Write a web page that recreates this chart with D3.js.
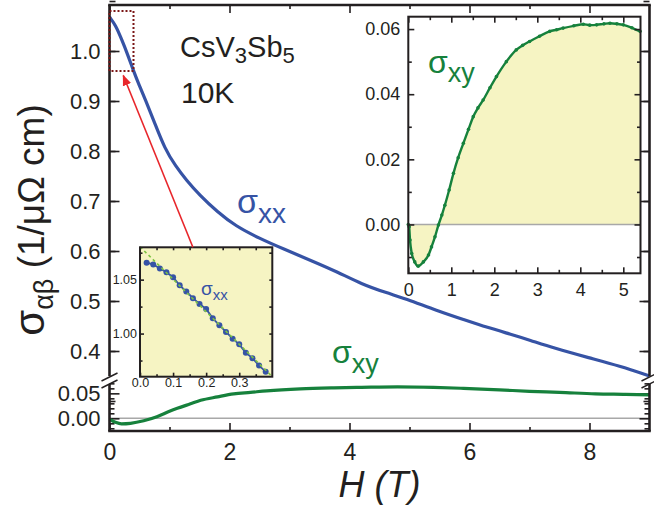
<!DOCTYPE html>
<html><head><meta charset="utf-8">
<script src="https://cdn.jsdelivr.net/npm/d3@7"></script>
<style>
body{margin:0;background:#fff}
svg{display:block}
text{font-family:"Liberation Sans",Arial,Helvetica,sans-serif;fill:#231f20}
</style>
</head><body><svg id="c" width="654" height="506"></svg>
<script>
// ---------- data ----------
const fieldXX = [0, 0.1, 0.2, 0.3, 0.4, 0.5, 0.6, 0.75, 0.92, 1.1, 1.28, 1.5, 1.8, 2.1, 2.5, 2.9, 3.4, 3.8, 4.2, 4.6, 5.0, 5.5, 5.9, 6.3, 6.7, 7.0, 7.4, 8.0, 8.5, 9.0];
const sigmaXX = [1.068, 1.052, 1.024, 0.994, 0.960, 0.930, 0.902, 0.857, 0.805, 0.770, 0.742, 0.712, 0.678, 0.650, 0.625, 0.604, 0.579, 0.558, 0.534, 0.517, 0.502, 0.479, 0.463, 0.447, 0.433, 0.422, 0.406, 0.386, 0.370, 0.350];

const fieldXY = [0, 0.1, 0.2, 0.35, 0.57, 0.79, 1.0, 1.13, 1.35, 1.52, 1.8, 2.07, 2.35, 2.62, 3.18, 3.74, 4.2, 4.8, 5.4, 5.9, 6.5, 7.0, 7.5, 8.1, 8.6, 9.0];
const sigmaXY = [-0.002, -0.008, -0.011, -0.010, -0.005, 0.003, 0.014, 0.020, 0.029, 0.036, 0.043, 0.049, 0.052, 0.055, 0.059, 0.061, 0.062, 0.063, 0.062, 0.060, 0.057, 0.054, 0.052, 0.049, 0.048, 0.047];

const insetXYField = [0.00, 0.02, 0.04, 0.08, 0.15, 0.23, 0.35, 0.47, 0.54, 0.62, 0.70, 0.78, 0.85, 0.95, 1.05, 1.16, 1.28, 1.40, 1.51, 1.62, 1.74, 1.90, 2.05, 2.28, 2.51, 2.66, 2.82, 3.05, 3.29, 3.45, 3.60, 3.85, 4.07, 4.22, 4.38, 4.55, 4.69, 4.85, 5.00, 5.20, 5.39];
const insetXYValue = [0.0000, -0.0007, -0.0048, -0.0089, -0.0115, -0.0128, -0.0115, -0.0094, -0.0069, -0.0038, -0.0002, 0.0029, 0.0059, 0.0106, 0.0157, 0.0205, 0.0249, 0.0292, 0.0331, 0.0358, 0.0382, 0.0420, 0.0454, 0.0500, 0.0536, 0.0550, 0.0562, 0.0578, 0.0593, 0.0598, 0.0603, 0.0610, 0.0615, 0.0612, 0.0613, 0.0616, 0.0618, 0.0616, 0.0613, 0.0604, 0.0593];

const insetXXField = [0.02, 0.04, 0.06, 0.08, 0.10, 0.12, 0.14, 0.16, 0.18, 0.20, 0.22, 0.24, 0.26, 0.28, 0.30, 0.32, 0.34, 0.36, 0.38];
const insetXXValue = [1.0657, 1.0641, 1.0603, 1.0568, 1.0522, 1.0447, 1.0390, 1.0328, 1.0275, 1.0228, 1.0141, 1.0078, 1.0015, 0.9953, 0.9900, 0.9822, 0.9772, 0.9703, 0.9647];
const fitField = [0.0, 0.4];
const fitValue = [1.0805, 0.9600];

const mainXTicks = [0, 2, 4, 6, 8];
const mainXMinor = [1, 3, 5, 7];
const mainYUpperTicks = [0.4, 0.5, 0.6, 0.7, 0.8, 0.9, 1.0];
const mainYLowerTicks = [0.00, 0.05];
const insetXYXTicks = [0, 1, 2, 3, 4, 5];
const insetXYYTicks = [0.00, 0.02, 0.04, 0.06];
const insetXXXTicks = [0.0, 0.1, 0.2, 0.3];
const insetXXYTicks = [1.00, 1.05];

// ---------- setup ----------
const svg = d3.select("#c");
const BLUE = "#3653a5", GREEN = "#16813c", YEL = "#f6f4c3", DARK = "#231f20";

const xM = d3.scaleLinear().domain([0, 9]).range([109.5, 649.5]);
const yU = d3.scaleLinear().domain([0.348, 1.092]).range([377, 5]);
const yL = d3.scaleLinear().domain([-0.0254, 0.0707]).range([431, 383]);

function styleAxis(g, fs) {
  g.select(".domain").remove();
  g.selectAll(".tick line").attr("stroke", DARK).attr("stroke-width", 1.6);
  g.selectAll("text").attr("font-size", fs).attr("fill", DARK);
}
const range = (a, b, s) => d3.range(Math.round(a / s), Math.round(b / s) + 1).map(i => +(i * s).toFixed(4));

// main zero line
svg.append("line").attr("x1", xM(0)).attr("x2", xM(9)).attr("y1", yL(0)).attr("y2", yL(0))
  .attr("stroke", "#a8a8a8").attr("stroke-width", 1.6);

// main axes
const gm = svg.append("g");
gm.append("g").attr("transform", `translate(${xM(0)},0)`)
  .call(d3.axisLeft(yU).tickValues(mainYUpperTicks).tickSize(-10).tickPadding(9).tickFormat(d3.format(".1f")))
  .call(g => styleAxis(g, 22));
gm.append("g").attr("transform", `translate(${xM(0)},0)`)
  .call(d3.axisLeft(yU).tickValues(range(0.35, 1.05, 0.1).map(v => +(v).toFixed(2))).tickSize(-6).tickFormat(""))
  .call(g => styleAxis(g, 22));
gm.append("g").attr("transform", `translate(${xM(9)},0)`)
  .call(d3.axisRight(yU).tickValues(mainYUpperTicks).tickSize(-10).tickFormat(""))
  .call(g => styleAxis(g, 22));
gm.append("g").attr("transform", `translate(${xM(9)},0)`)
  .call(d3.axisRight(yU).tickValues(range(0.35, 1.05, 0.1)).tickSize(-6).tickFormat(""))
  .call(g => styleAxis(g, 22));
gm.append("g").attr("transform", `translate(${xM(0)},0)`)
  .call(d3.axisLeft(yL).tickValues(mainYLowerTicks).tickSize(-10).tickPadding(9).tickFormat(d3.format(".2f")))
  .call(g => styleAxis(g, 22));
const lowMinor = range(-0.02, 0.07, 0.01).filter(v => Math.abs(v) > 1e-6 && Math.abs(v - 0.05) > 1e-6);
gm.append("g").attr("transform", `translate(${xM(0)},0)`)
  .call(d3.axisLeft(yL).tickValues(lowMinor).tickSize(-5).tickFormat(""))
  .call(g => styleAxis(g, 22));
gm.append("g").attr("transform", `translate(${xM(9)},0)`)
  .call(d3.axisRight(yL).tickValues(mainYLowerTicks).tickSize(-10).tickFormat(""))
  .call(g => styleAxis(g, 22));
gm.append("g").attr("transform", `translate(${xM(9)},0)`)
  .call(d3.axisRight(yL).tickValues(lowMinor).tickSize(-5).tickFormat(""))
  .call(g => styleAxis(g, 22));
gm.append("g").attr("transform", `translate(0,431)`)
  .call(d3.axisBottom(xM).tickValues(mainXTicks).tickSize(-8).tickPadding(13).tickFormat(d3.format("d")))
  .call(g => styleAxis(g, 23));
gm.append("g").attr("transform", `translate(0,431)`)
  .call(d3.axisBottom(xM).tickValues(mainXMinor).tickSize(-4).tickFormat(""))
  .call(g => styleAxis(g, 23));
gm.append("g").attr("transform", `translate(0,5)`)
  .call(d3.axisTop(xM).tickValues(mainXTicks).tickSize(-8).tickFormat(""))
  .call(g => styleAxis(g, 23));
gm.append("g").attr("transform", `translate(0,5)`)
  .call(d3.axisTop(xM).tickValues(mainXMinor).tickSize(-4).tickFormat(""))
  .call(g => styleAxis(g, 23));

// main curves
const lineXY = d3.line().x((d, i) => xM(fieldXY[i])).y(d => yL(d)).curve(d3.curveMonotoneX);
svg.append("path").attr("d", lineXY(sigmaXY)).attr("fill", "none").attr("stroke", GREEN).attr("stroke-width", 3.2);
const lineXX = d3.line().x((d, i) => xM(fieldXX[i])).y(d => yU(d)).curve(d3.curveBasis);
svg.append("path").attr("d", lineXX(sigmaXX)).attr("fill", "none").attr("stroke", BLUE).attr("stroke-width", 3.2);

// frame
const fr = svg.append("g").attr("stroke", DARK).attr("stroke-width", 2.6).attr("fill", "none");
fr.append("line").attr("x1", xM(0) - 1.3).attr("x2", xM(9) + 1.3).attr("y1", 5).attr("y2", 5);
fr.append("line").attr("x1", xM(0) - 1.3).attr("x2", xM(9) + 1.3).attr("y1", 431).attr("y2", 431);
fr.append("line").attr("x1", xM(0)).attr("x2", xM(0)).attr("y1", 5).attr("y2", 376);
fr.append("line").attr("x1", xM(0)).attr("x2", xM(0)).attr("y1", 384).attr("y2", 431);
fr.append("line").attr("x1", xM(9)).attr("x2", xM(9)).attr("y1", 5).attr("y2", 376);
fr.append("line").attr("x1", xM(9)).attr("x2", xM(9)).attr("y1", 384).attr("y2", 431);
// break marks
const bk = svg.append("g").attr("stroke", DARK).attr("stroke-width", 1.4);
[xM(0), xM(9)].forEach(cx => {
  bk.append("line").attr("x1", cx - 8).attr("y1", 381).attr("x2", cx + 8).attr("y2", 373);
  bk.append("line").attr("x1", cx - 8).attr("y1", 388).attr("x2", cx + 8).attr("y2", 380);
});

// dotted box in main (region of inset)
svg.append("rect").attr("x", xM(0)).attr("y", yU(1.08)).attr("width", xM(0.4) - xM(0)).attr("height", yU(0.96) - yU(1.08))
  .attr("fill", "none").attr("stroke", "#7b1616").attr("stroke-width", 2).attr("stroke-dasharray", "2,2");

// ---------- inset 1 (sigma_xy) ----------
const xI = d3.scaleLinear().domain([0, 5.4]).range([408.3, 640.5]);
const yI = d3.scaleLinear().domain([-0.015, 0.0638]).range([273.3, 16.7]);
svg.append("rect").attr("x", xI(0)).attr("y", yI(0.0638)).attr("width", xI(5.4) - xI(0)).attr("height", yI(-0.015) - yI(0.0638)).attr("fill", "#fff");
const areaI = d3.area().x((d, i) => xI(insetXYField[i])).y0(yI(0)).y1(d => yI(d)).curve(d3.curveMonotoneX);
svg.append("path").attr("d", areaI(insetXYValue)).attr("fill", YEL);
svg.append("line").attr("x1", xI(0)).attr("x2", xI(5.4)).attr("y1", yI(0)).attr("y2", yI(0)).attr("stroke", "#a8a8a8").attr("stroke-width", 1.6);
const lineI = d3.line().x((d, i) => xI(insetXYField[i])).y(d => yI(d)).curve(d3.curveMonotoneX);
svg.append("path").attr("d", lineI(insetXYValue)).attr("fill", "none").attr("stroke", GREEN).attr("stroke-width", 2.4);
svg.append("g").selectAll("circle").data(insetXYValue).join("circle")
  .attr("cx", (d, i) => xI(insetXYField[i])).attr("cy", d => yI(d)).attr("r", 1.8).attr("fill", GREEN);
const gi = svg.append("g");
gi.append("g").attr("transform", `translate(${xI(0)},0)`)
  .call(d3.axisLeft(yI).tickValues(insetXYYTicks).tickSize(-6).tickPadding(8).tickFormat(d3.format(".2f")))
  .call(g => styleAxis(g, 18));
gi.append("g").attr("transform", `translate(${xI(0)},0)`)
  .call(d3.axisLeft(yI).tickValues([-0.01, 0.01, 0.03, 0.05]).tickSize(-3.5).tickFormat(""))
  .call(g => styleAxis(g, 18));
gi.append("g").attr("transform", `translate(${xI(5.4)},0)`)
  .call(d3.axisRight(yI).tickValues(insetXYYTicks).tickSize(-6).tickFormat(""))
  .call(g => styleAxis(g, 18));
gi.append("g").attr("transform", `translate(${xI(5.4)},0)`)
  .call(d3.axisRight(yI).tickValues([-0.01, 0.01, 0.03, 0.05]).tickSize(-3.5).tickFormat(""))
  .call(g => styleAxis(g, 18));
gi.append("g").attr("transform", `translate(0,${yI(-0.015)})`)
  .call(d3.axisBottom(xI).tickValues(insetXYXTicks).tickSize(-6).tickPadding(10).tickFormat(d3.format("d")))
  .call(g => styleAxis(g, 18));
gi.append("g").attr("transform", `translate(0,${yI(-0.015)})`)
  .call(d3.axisBottom(xI).tickValues([0.5, 1.5, 2.5, 3.5, 4.5]).tickSize(-3.5).tickFormat(""))
  .call(g => styleAxis(g, 18));
gi.append("g").attr("transform", `translate(0,${yI(0.0638)})`)
  .call(d3.axisTop(xI).tickValues(insetXYXTicks).tickSize(-6).tickFormat(""))
  .call(g => styleAxis(g, 18));
gi.append("g").attr("transform", `translate(0,${yI(0.0638)})`)
  .call(d3.axisTop(xI).tickValues([0.5, 1.5, 2.5, 3.5, 4.5]).tickSize(-3.5).tickFormat(""))
  .call(g => styleAxis(g, 18));
svg.append("rect").attr("x", xI(0)).attr("y", yI(0.0638)).attr("width", xI(5.4) - xI(0)).attr("height", yI(-0.015) - yI(0.0638))
  .attr("fill", "none").attr("stroke", DARK).attr("stroke-width", 2);
const tI = svg.append("text").attr("x", 428).attr("y", 73).style("fill", GREEN);
tI.append("tspan").attr("font-size", 32).text("σ").style("fill", GREEN);
tI.append("tspan").attr("font-size", 27).attr("dy", 9).text("xy").style("fill", GREEN);

// ---------- inset 2 (sigma_xx zoom) ----------
const xJ = d3.scaleLinear().domain([0, 0.4]).range([140, 272.3]);
const yJ = d3.scaleLinear().domain([0.96, 1.08]).range([376.7, 247.3]);
svg.append("rect").attr("x", xJ(0)).attr("y", yJ(1.08)).attr("width", xJ(0.4) - xJ(0)).attr("height", yJ(0.96) - yJ(1.08)).attr("fill", YEL);
const lineJ = d3.line().x((d, i) => xJ(insetXXField[i])).y(d => yJ(d));
svg.append("path").attr("d", lineJ(insetXXValue)).attr("fill", "none").attr("stroke", BLUE).attr("stroke-width", 1.8);
svg.append("g").selectAll("circle").data(insetXXValue).join("circle")
  .attr("cx", (d, i) => xJ(insetXXField[i])).attr("cy", d => yJ(d)).attr("r", 3).attr("fill", BLUE);
const fitJ = d3.line().x((d, i) => xJ(fitField[i])).y(d => yJ(d));
svg.append("path").attr("d", fitJ(fitValue)).attr("fill", "none").attr("stroke", "#7cc242").attr("stroke-width", 1.6).attr("stroke-dasharray", "3,3");
const gj = svg.append("g");
gj.append("g").attr("transform", `translate(${xJ(0)},0)`)
  .call(d3.axisLeft(yJ).tickValues(insetXXYTicks).tickSize(-4).tickPadding(3).tickFormat(d3.format(".2f")))
  .call(g => styleAxis(g, 12.5));
gj.append("g").attr("transform", `translate(${xJ(0)},0)`)
  .call(d3.axisLeft(yJ).tickValues([0.975, 1.025, 1.075]).tickSize(-2.5).tickFormat(""))
  .call(g => styleAxis(g, 12.5));
gj.append("g").attr("transform", `translate(${xJ(0.4)},0)`)
  .call(d3.axisRight(yJ).tickValues([0.975, 1.0, 1.025, 1.05, 1.075]).tickSize(-3).tickFormat(""))
  .call(g => styleAxis(g, 12.5));
gj.append("g").attr("transform", `translate(0,${yJ(0.96)})`)
  .call(d3.axisBottom(xJ).tickValues(insetXXXTicks).tickSize(-4).tickPadding(1.5).tickFormat(d3.format(".1f")))
  .call(g => styleAxis(g, 12.5));
gj.append("g").attr("transform", `translate(0,${yJ(0.96)})`)
  .call(d3.axisBottom(xJ).tickValues([0.05, 0.15, 0.25, 0.35]).tickSize(-2.5).tickFormat(""))
  .call(g => styleAxis(g, 12.5));
gj.append("g").attr("transform", `translate(0,${yJ(1.08)})`)
  .call(d3.axisTop(xJ).tickValues([0.05, 0.1, 0.15, 0.2, 0.25, 0.3, 0.35]).tickSize(-3).tickFormat(""))
  .call(g => styleAxis(g, 12.5));
svg.append("rect").attr("x", xJ(0)).attr("y", yJ(1.08)).attr("width", xJ(0.4) - xJ(0)).attr("height", yJ(0.96) - yJ(1.08))
  .attr("fill", "none").attr("stroke", DARK).attr("stroke-width", 2);
const tJ = svg.append("text").attr("x", 201).attr("y", 295);
tJ.append("tspan").attr("font-size", 19).text("σ").style("fill", BLUE);
tJ.append("tspan").attr("font-size", 15).attr("dy", 5).text("xx").style("fill", BLUE);

// arrow
const defs = svg.append("defs");
defs.append("marker").attr("id", "ah").attr("viewBox", "0 0 10 8").attr("refX", 9).attr("refY", 4)
  .attr("markerWidth", 11).attr("markerHeight", 9).attr("markerUnits", "userSpaceOnUse").attr("orient", "auto")
  .append("path").attr("d", "M0,0 L10,4 L0,8 Z").attr("fill", "#e8262b");
svg.append("line").attr("x1", xJ(0.16)).attr("y1", yJ(1.08)).attr("x2", xM(0.23)).attr("y2", yU(0.951))
  .attr("stroke", "#e8262b").attr("stroke-width", 1.6).attr("marker-end", "url(#ah)");

// ---------- labels ----------
const t1 = svg.append("text").attr("x", 180).attr("y", 57).attr("font-size", 29);
t1.append("tspan").text("CsV");
t1.append("tspan").attr("font-size", 22).attr("dy", 6).text("3");
t1.append("tspan").attr("dy", -6).text("Sb");
t1.append("tspan").attr("font-size", 22).attr("dy", 6).text("5");
svg.append("text").attr("x", 181).attr("y", 103).attr("font-size", 30).text("10K");

const t2 = svg.append("text").attr("x", 237).attr("y", 213);
t2.append("tspan").attr("font-size", 34).text("σ").style("fill", BLUE);
t2.append("tspan").attr("font-size", 28).attr("dy", 10).text("xx").style("fill", BLUE);

const t3 = svg.append("text").attr("x", 332).attr("y", 363);
t3.append("tspan").attr("font-size", 32).text("σ").style("fill", GREEN);
t3.append("tspan").attr("font-size", 27).attr("dy", 10).text("xy").style("fill", GREEN);

const ty = svg.append("text").attr("transform", "translate(44,220) rotate(-90)").attr("text-anchor", "middle");
ty.append("tspan").attr("font-size", 42).text("σ");
ty.append("tspan").attr("font-size", 27).attr("dy", 9).text("αβ");
ty.append("tspan").attr("font-size", 37).attr("dy", -9).text(" (1/μΩ cm)");

svg.append("text").attr("x", xM(4.5)).attr("y", 497).attr("text-anchor", "middle")
  .attr("font-size", 36).attr("font-style", "italic").text("H (T)");
</script></body></html>
